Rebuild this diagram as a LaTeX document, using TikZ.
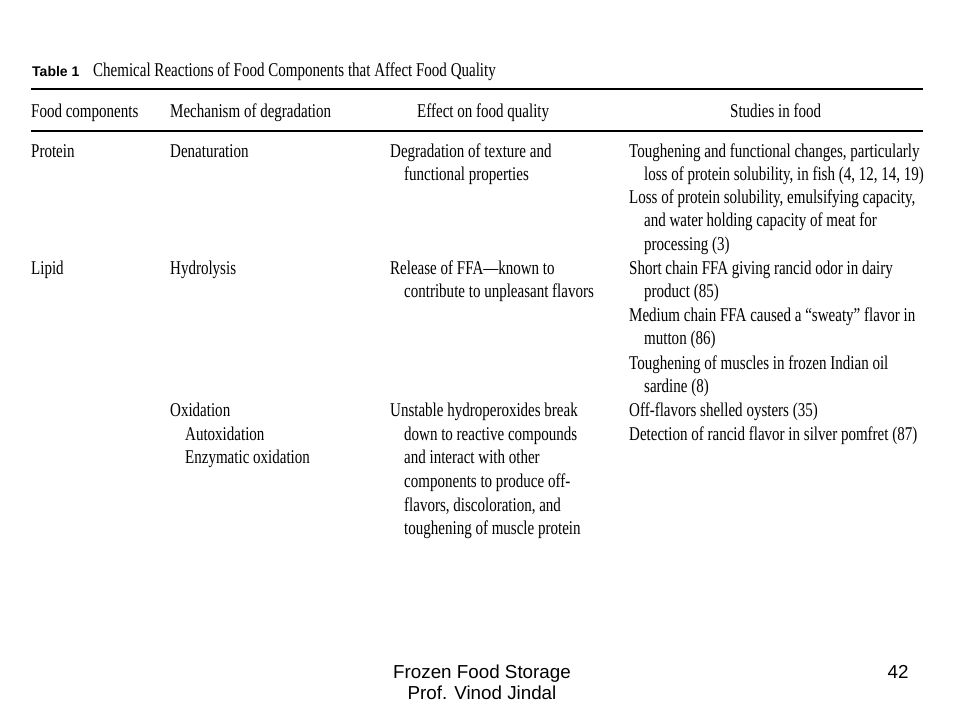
\documentclass[tikz,border=0pt]{standalone}
\usepackage{fontspec}
\newfontfamily\tabfont[FakeStretch=0.77]{Liberation Serif}
\newfontfamily\slidefont{Liberation Sans}
\usetikzlibrary{positioning}
\newcommand{\entry}[1]{\begin{tabular}[t]{@{}l@{}}#1\end{tabular}}
\newcommand{\footrows}[1]{\begin{tabular}[t]{@{}c@{}}#1\end{tabular}}

\begin{document}
\begin{tikzpicture}[x=1pt,y=-1pt,
  cell/.style={anchor=base west,inner sep=0pt,
    font=\tabfont\fontsize{19.5}{23.6}\selectfont},
  head/.style={cell},
  rule/.style={line width=2pt},
  slide/.style={anchor=base,inner sep=0pt,font=\slidefont\fontsize{18.8}{21}\selectfont}]
\useasboundingbox[fill=white] (0,0) rectangle (960,720);
% caption
\node[anchor=base west,inner sep=0pt,font=\slidefont\bfseries\fontsize{14}{16}\selectfont] (tablelbl) at (32,76) {Table 1};
\node[cell] (caption) at (93,76) {Chemical Reactions of Food Components that Affect Food Quality};
\draw[rule] (31,88.5) -- (923,88.5);
% header
\node[head] (hcomp) at (31,117) {Food components};
\node[head] (hmech) at (170,117) {Mechanism of degradation};
\node[head] (heff) at (417,117) {Effect on food quality};
\node[head] (hstud) at (730,117) {Studies in food};
\draw[rule] (31,130.5) -- (923,130.5);
% protein
\node[cell] (protein) at (31,157) {Protein};
\node[cell] (denat) at (170,157) {Denaturation};
\node[cell] (texture) at (390,157) {\entry{Degradation of texture and\\\hspace*{14pt}functional properties}};
\node[cell] (fish) at (629,157) {\entry{Toughening and functional changes, particularly\\\hspace*{15pt}loss of protein solubility, in fish (4, 12, 14, 19)}};
\node[cell] (meat) at (629,203) {\entry{Loss of protein solubility, emulsifying capacity,\\\hspace*{15pt}and water holding capacity of meat for\\\hspace*{15pt}processing (3)}};
% lipid
\node[cell] (lipid) at (31,274) {Lipid};
\node[cell] (hydro) at (170,274) {Hydrolysis};
\node[cell] (ffa) at (390,274) {\entry{Release of FFA—known to\\\hspace*{14pt}contribute to unpleasant flavors}};
\node[cell] (dairy) at (629,274) {\entry{Short chain FFA giving rancid odor in dairy\\\hspace*{15pt}product (85)}};
\node[cell] (mutton) at (629,321) {\entry{Medium chain FFA caused a “sweaty” flavor in\\\hspace*{15pt}mutton (86)}};
\node[cell] (sardine) at (629,369) {\entry{Toughening of muscles in frozen Indian oil\\\hspace*{15pt}sardine (8)}};
\node[cell] (oxid) at (170,416.6) {\entry{Oxidation\\\hspace*{15pt}Autoxidation\\\hspace*{15pt}Enzymatic oxidation}};
\node[cell] (perox) at (390,416.6) {\entry{Unstable hydroperoxides break\\\hspace*{14pt}down to reactive compounds\\\hspace*{14pt}and interact with other\\\hspace*{14pt}components to produce off-\\\hspace*{14pt}flavors, discoloration, and\\\hspace*{14pt}toughening of muscle protein}};
\node[cell] (oyster) at (629,416.6) {\entry{Off-flavors shelled oysters (35)\\Detection of rancid flavor in silver pomfret (87)}};
% footer
\node[slide] (footer) at (482,678) {\footrows{Frozen Food Storage\\Prof. Vinod Jindal}};
\node[slide] (pageno) at (898,678) {42};
\end{tikzpicture}
\end{document}
